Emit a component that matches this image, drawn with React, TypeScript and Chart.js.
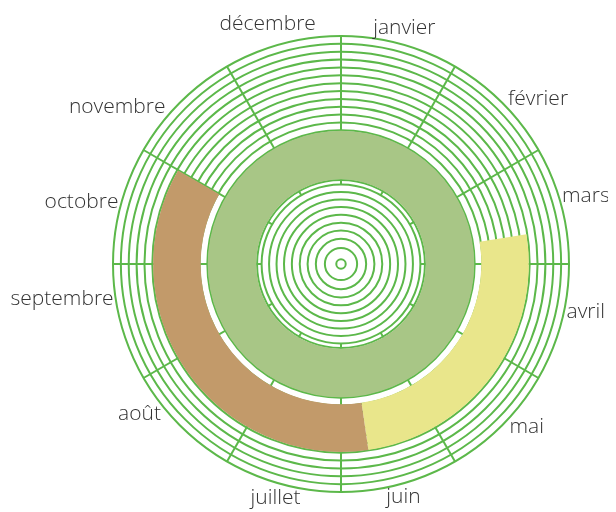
import React, { useEffect, useRef } from 'react';
import { Chart, registerables } from 'chart.js';

Chart.register(...registerables);

// ---- data ----
const months = ['janvier', 'février', 'mars', 'avril', 'mai', 'juin', 'juillet', 'août', 'septembre', 'octobre', 'novembre', 'décembre'];
// outer band: days from 1 January (gap, yellow phase, brown phase, rest of year)
const phaseDays = [82, 92, 130, 61];
const phaseColors = ['rgba(0,0,0,0)', '#e9e68b', '#c29a6a', 'rgba(0,0,0,0)'];
// inner band: the whole year
const wholeYear = [365];
// radial scale: one circle per step in the outer part, measured circles in the core
const gridMin = 0;
const gridMax = 29;
const gridStep = 1;
const coreCircles = [0.6, 2.05, 3.2, 4.25, 5.25, 6.25, 7.25, 8.2, 9.15, 10.1];

// ---- style / layout ----
const GRID_GREEN = '#5cb84a';
const RING_GREEN = '#a8c686';
const OUTER_BAND = [17.85, 23.9];
const INNER_BAND = [10.78, 16.95];
const LABEL_FONT = '300 21px "Open Sans"';
const LABEL_COLOR = '#333333';
const LABEL_GAP = 1;
const LABEL_H = 16;
// small angular nudges (degrees) of each month label around its mid-month direction
const LABEL_NUDGE = [0, 5, -0.5, -4, -3.7, 0, 0.6, 8.4, 7.8, -1.6, -10, -2];

function ringGeom(c: any, innerU: number, outerU: number) {
  const chart = c.chart;
  const s = chart.scales.r;
  const a = s.getDistanceFromCenterForValue(innerU);
  const b = s.getDistanceFromCenterForValue(outerU);
  const ds = chart.data.datasets;
  let W = 0;
  let O = 0;
  ds.forEach((d: any, j: number) => {
    if (chart.isDatasetVisible(j)) {
      const w = d.weight ?? 1;
      W += w;
      if (j < c.datasetIndex) O += w;
    }
  });
  const w = ds[c.datasetIndex].weight ?? 1;
  const L = (b - a) / w;
  const R = b + L * O;
  const cut = 1 - (L * W) / R;
  return { R, cut };
}

const monthLabels = {
  id: 'monthLabels',
  afterDraw(chart: any) {
    const s = chart.scales.r;
    const ctx = chart.ctx;
    const labels: string[] = chart.data.labels;
    const n = labels.length;
    ctx.save();
    ctx.font = LABEL_FONT;
    ctx.fillStyle = LABEL_COLOR;
    ctx.textAlign = 'center';
    ctx.textBaseline = 'middle';
    labels.forEach((m, i) => {
      const add = Math.PI / n + ((LABEL_NUDGE[i] || 0) * Math.PI) / 180;
      const theta = (i * 2 * Math.PI) / n + add;
      const w = ctx.measureText(m).width;
      const d = s.drawingArea + LABEL_GAP + 0.5 * Math.abs(w * Math.sin(theta)) + 0.5 * Math.abs(LABEL_H * Math.cos(theta));
      const p = s.getPointPosition(i, d, add);
      ctx.fillText(m, p.x, p.y);
    });
    ctx.restore();
  },
};

export default function App() {
  const ref = useRef<HTMLCanvasElement>(null);
  useEffect(() => {
    if (!ref.current) return;
    const chart = new Chart(ref.current, {
      type: 'doughnut',
      data: {
        labels: months,
        datasets: [
          {
            data: phaseDays,
            backgroundColor: phaseColors,
            borderWidth: 0,
            hoverOffset: 0,
            radius: (c: any) => ringGeom(c, OUTER_BAND[0], OUTER_BAND[1]).R,
            cutout: (c: any) => ringGeom(c, OUTER_BAND[0], OUTER_BAND[1]).cut * 100 + '%',
          } as any,
          {
            data: wholeYear,
            backgroundColor: [RING_GREEN],
            borderWidth: 0,
            hoverOffset: 0,
            radius: (c: any) => ringGeom(c, INNER_BAND[0], INNER_BAND[1]).R,
            cutout: (c: any) => ringGeom(c, INNER_BAND[0], INNER_BAND[1]).cut * 100 + '%',
          } as any,
        ],
      },
      options: {
        animation: false,
        responsive: false,
        layout: { padding: { left: 105, right: 39, top: 28, bottom: 20 } },
        plugins: { legend: { display: false }, tooltip: { enabled: false } },
        scales: {
          r: {
            type: 'radialLinear',
            min: gridMin,
            max: gridMax,
            ticks: { display: false, stepSize: gridStep },
            // core circles as measured, plus one along the inner edge of the green band
            afterBuildTicks: (scale: any) => {
              const outer = scale.ticks.filter((t: any) => t.value > INNER_BAND[0]);
              scale.ticks = [{ value: 0 }, ...coreCircles.map((v) => ({ value: v })), { value: INNER_BAND[0] - 0.1 }, ...outer];
            },
            grid: { circular: true, color: GRID_GREEN, lineWidth: 2 },
            angleLines: {
              display: true,
              color: GRID_GREEN,
              lineWidth: 2,
              borderDash: (c: any) => {
                const s = c.chart.scales.r;
                const start = s.getDistanceFromCenterForValue(coreCircles[coreCircles.length - 1]);
                return [s.drawingArea - start + 2, start];
              },
              borderDashOffset: (c: any) => {
                const s = c.chart.scales.r;
                const start = s.getDistanceFromCenterForValue(coreCircles[coreCircles.length - 1]);
                return s.drawingArea - start + 2;
              },
            },
            pointLabels: { display: false },
          } as any,
        },
      } as any,
      plugins: [monthLabels],
    });
    return () => chart.destroy();
  }, []);
  return <canvas ref={ref} width={600} height={504} style={{ display: 'block' }} />;
}
